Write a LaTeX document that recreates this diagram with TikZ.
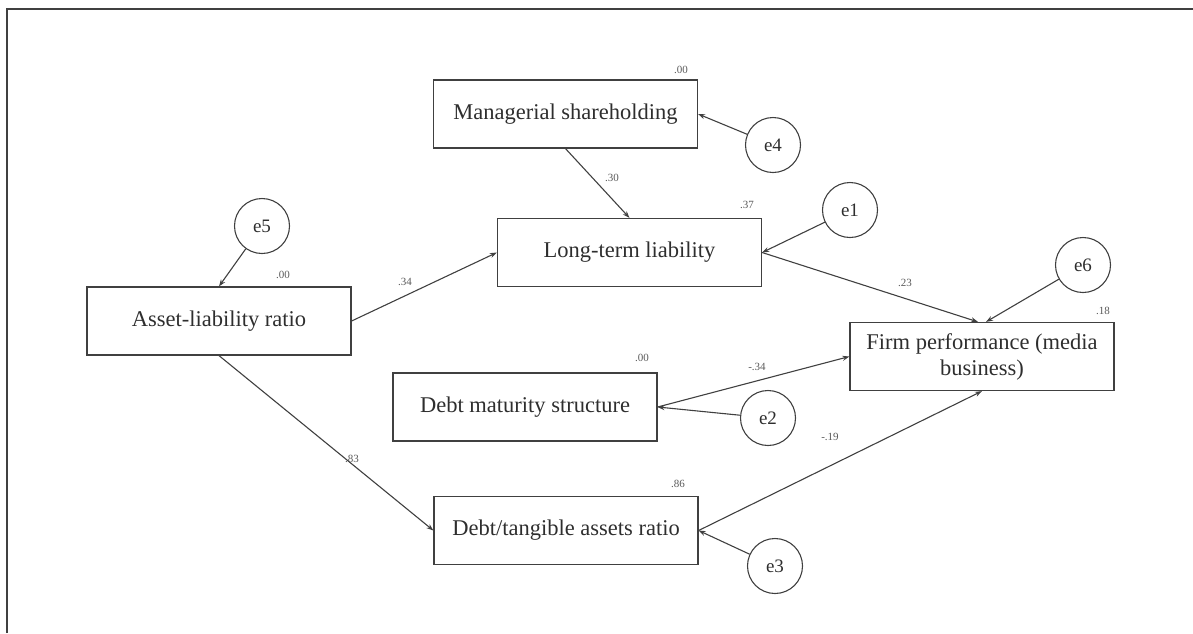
\documentclass[tikz,border=0pt]{standalone}
\usepackage{fontspec}
\setmainfont{Liberation Serif}
\usetikzlibrary{arrows.meta}
\definecolor{linec}{gray}{0.25}
\definecolor{textc}{gray}{0.18}
\definecolor{labc}{gray}{0.35}
\begin{document}
\begin{tikzpicture}[x=1pt,y=-1pt,
  var/.style={draw=linec, line width=1.2pt, minimum width=264pt, minimum height=68pt, inner sep=0pt, font=\fontsize{22.5}{26}\selectfont, text=textc, align=center},
  err/.style={draw=linec, line width=1.1pt, circle, minimum size=55pt, inner sep=0pt, font=\fontsize{19}{22}\selectfont, text=textc},
  conn/.style={draw=linec, line width=1.1pt, -{Stealth[length=7pt,width=5pt]}},
  lab/.style={font=\fontsize{11}{12}\selectfont, text=labc, inner sep=0pt}]
\useasboundingbox (0,0) rectangle (1193,633);
\draw[linec, line width=1.6pt] (7,633) -- (7,9) -- (1193,9);

% variables
\node[var] (ms) at (565.5,114) {Managerial shareholding};
\node[var] (lt) at (629.5,252.5) {Long-term liability};
\node[var] (al) at (219,321) {Asset-liability ratio};
\node[var] (fp) at (982,356.5) {Firm performance (media\\business)};
\node[var] (dm) at (525,407) {Debt maturity structure};
\node[var] (dt) at (566,530.5) {Debt/tangible assets ratio};

% errors
\node[err] (e4) at (773,145) {e4};
\node[err] (e1) at (850,210) {e1};
\node[err] (e5) at (262,226) {e5};
\node[err] (e6) at (1083,265) {e6};
\node[err] (e2) at (768,418) {e2};
\node[err] (e3) at (775,566) {e3};

% connectors
\draw[conn] (e4) -- (ms.east);
\draw[conn] (ms.south) -- (lt.north);
\draw[conn] (e1) -- (lt.east);
\draw[conn] (al.east) -- (lt.west);
\draw[conn] (e5) -- (al.north);
\draw[conn] (lt.east) -- ([xshift=-4pt]fp.north);
\draw[conn] (e6) -- ([xshift=4pt]fp.north);
\draw[conn] (dm.east) -- (fp.west);
\draw[conn] (e2) -- (dm.east);
\draw[conn] (dt.east) -- (fp.south);
\draw[conn] (e3) -- (dt.east);
\draw[conn] (al.south) -- (dt.west);

% labels
\node[lab] (l1) at (681,70) {.00};
\node[lab] (l2) at (612,178) {.30};
\node[lab] (l3) at (747,205) {.37};
\node[lab] (l4) at (405,282) {.34};
\node[lab] (l5) at (283,275) {.00};
\node[lab] (l6) at (905,283) {.23};
\node[lab] (l7) at (1103,311) {.18};
\node[lab] (l8) at (757,367) {-.34};
\node[lab] (l9) at (642,358) {.00};
\node[lab] (l10) at (830,437) {-.19};
\node[lab] (l11) at (678,484) {.86};
\node[lab] (l12) at (352,459) {.83};
\end{tikzpicture}
\end{document}
